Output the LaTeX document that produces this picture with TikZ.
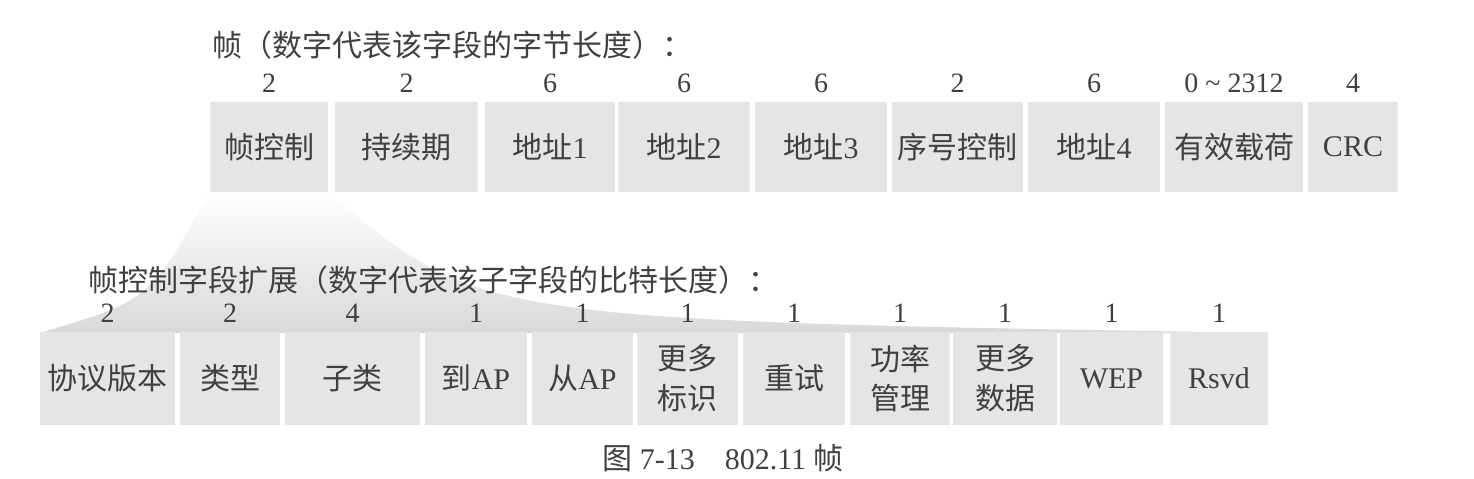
\documentclass[tikz,border=0pt]{standalone}
\usepackage{fontspec}
\setmainfont{Liberation Serif}
\newfontfamily\cjk{Noto Sans CJK SC}
\begin{document}
\begin{tikzpicture}[x=0.5pt,y=-0.5pt,
  field/.style={fill=black!10, draw=none, text=black!75, font=\fontsize{15}{20}\selectfont, inner sep=0pt, align=center},
  fw/.style={minimum width=#1*0.5pt},
  toprow/.style={minimum height=45pt},
  botrow/.style={minimum height=46.5pt},
  num/.style={text=black!75, font=\fontsize{14}{16}\selectfont, inner sep=0pt},
  ttl/.style={text=black!75, font=\fontsize{15}{17}\selectfont\cjk, inner sep=0pt, anchor=west}]
\useasboundingbox (0,0) rectangle (1474,478);
\fill[white] (0,0) rectangle (1474,478);
% expansion fan
\shade[top color=white, bottom color=black!15]
  (210,192) -- (328,192) .. controls (480,320) .. (1268,333)
  -- (40,333) .. controls (150,300) .. (210,192) -- cycle;
% titles
\node[ttl] (t1) at (212,45) {帧（数字代表该字段的字节长度）：};
\node[ttl] (t2) at (88,280) {帧控制字段扩展（数字代表该子字段的比特长度）：};
% top row
\node[field,toprow,fw=118] (f1) at (269,147)  {{\cjk 帧控制}};
\node[field,toprow,fw=143] (f2) at (406.5,147) {{\cjk 持续期}};
\node[field,toprow,fw=130] (f3) at (550,147)  {{\cjk 地址}1};
\node[field,toprow,fw=132] (f4) at (684,147)  {{\cjk 地址}2};
\node[field,toprow,fw=132] (f5) at (821,147)  {{\cjk 地址}3};
\node[field,toprow,fw=131] (f6) at (957.5,147) {{\cjk 序号控制}};
\node[field,toprow,fw=132] (f7) at (1094,147) {{\cjk 地址}4};
\node[field,toprow,fw=138] (f8) at (1234,147) {{\cjk 有效载荷}};
\node[field,toprow,fw=90]  (f9) at (1353,147) {CRC};
\coordinate (ytop) at (0,83);
\node[num] (n1) at (f1 |- ytop) {2};
\node[num] (n2) at (f2 |- ytop) {2};
\node[num] (n3) at (f3 |- ytop) {6};
\node[num] (n4) at (f4 |- ytop) {6};
\node[num] (n5) at (f5 |- ytop) {6};
\node[num] (n6) at (f6 |- ytop) {2};
\node[num] (n7) at (f7 |- ytop) {6};
\node[num] (n8) at (f8 |- ytop) {0 \textasciitilde\ 2312};
\node[num] (n9) at (f9 |- ytop) {4};
% bottom row
\node[field,botrow,fw=135] (g1)  at (107.5,378.5) {{\cjk 协议版本}};
\node[field,botrow,fw=100] (g2)  at (230,378.5)   {{\cjk 类型}};
\node[field,botrow,fw=135] (g3)  at (352.5,378.5) {{\cjk 子类}};
\node[field,botrow,fw=102] (g4)  at (476,378.5)   {{\cjk 到}AP};
\node[field,botrow,fw=101] (g5)  at (582.5,378.5) {{\cjk 从}AP};
\node[field,botrow,fw=101] (g6)  at (687.5,378.5) {{\cjk 更多}\\{\cjk 标识}};
\node[field,botrow,fw=102] (g7)  at (794,378.5)   {{\cjk 重试}};
\node[field,botrow,fw=100] (g8)  at (900,378.5)   {{\cjk 功率}\\{\cjk 管理}};
\node[field,botrow,fw=104] (g9)  at (1005,378.5)  {{\cjk 更多}\\{\cjk 数据}};
\node[field,botrow,fw=103] (g10) at (1111.5,378.5) {WEP};
\node[field,botrow,fw=98]  (g11) at (1219,378.5)  {Rsvd};
\coordinate (ybot) at (0,313);
\node[num] (m1)  at (g1 |- ybot)  {2};
\node[num] (m2)  at (g2 |- ybot)  {2};
\node[num] (m3)  at (g3 |- ybot)  {4};
\node[num] (m4)  at (g4 |- ybot)  {1};
\node[num] (m5)  at (g5 |- ybot)  {1};
\node[num] (m6)  at (g6 |- ybot)  {1};
\node[num] (m7)  at (g7 |- ybot)  {1};
\node[num] (m8)  at (g8 |- ybot)  {1};
\node[num] (m9)  at (g9 |- ybot)  {1};
\node[num] (m10) at (g10 |- ybot) {1};
\node[num] (m11) at (g11 |- ybot) {1};
% caption
\node[anchor=base, inner sep=0pt, text=black!75, font=\fontsize{15}{17}\selectfont] (cap) at (723,469) {{\cjk 图} 7-13\quad 802.11 {\cjk 帧}};
\end{tikzpicture}
\end{document}
